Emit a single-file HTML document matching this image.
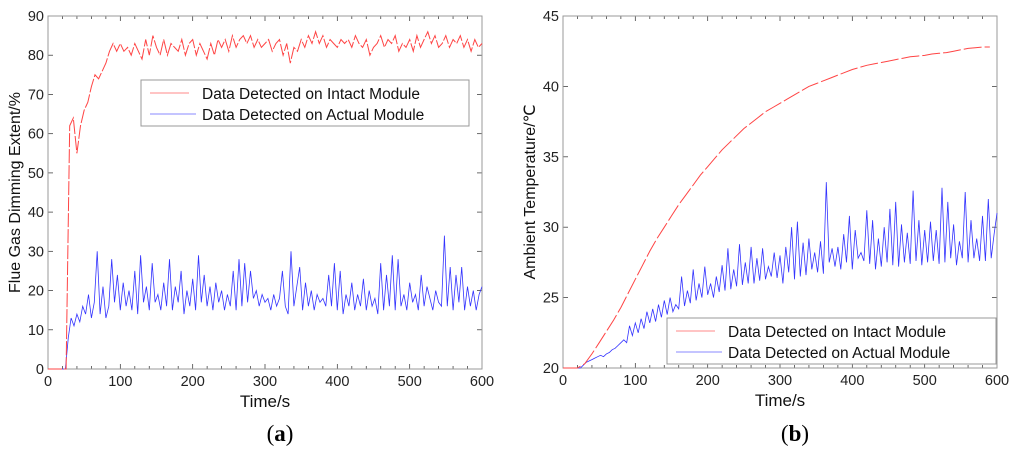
<!DOCTYPE html>
<html><head><meta charset="utf-8"><style>
body{margin:0;background:#fff;width:1024px;height:450px;overflow:hidden}
svg{font-family:"Liberation Sans",sans-serif}
</style></head><body>
<svg id="s" width="1024" height="450"></svg>
<script>
const xTicks=[0,100,200,300,400,500,600];
const yTicksA=[0,10,20,30,40,50,60,70,80,90];
const yTicksB=[20,25,30,35,40,45];
const redA=[0,0,0,0,0,0,62,64,55,62,66,68,72,75,74,76,78,81,83,81,83,81,82,80,83,81,79,84,80,85,82,80,84,80,83,82,81,84,80,83,84,80,83,81,79,83,80,84,82,84,81,85,82,84,85,83,85,82,84,82,83,84,81,83,84,80,83,78,82,81,84,82,85,83,86,83,85,82,84,83,82,84,83,84,82,85,83,82,84,80,82,83,85,82,84,83,85,81,83,82,84,81,85,82,84,86,83,85,82,83,85,82,84,83,85,82,84,81,84,82,83];
const blueA=[0,0,0,0,0,0,0,8,13,11,14,12,16,14,19,13,17,30,14,21,13,16,28,17,24,15,22,16,20,15,25,14,29,17,21,15,27,17,19,15,22,16,28,15,21,17,25,14,20,16,23,15,29,17,24,16,21,15,22,17,20,15,19,16,25,15,28,16,27,17,25,18,20,16,19,17,18,15,19,16,18,25,16,14,30,16,21,26,15,22,16,20,15,19,17,18,16,24,16,27,15,25,14,19,16,22,15,19,16,23,15,20,16,18,14,27,15,24,16,29,15,28,16,19,15,22,17,19,15,24,16,21,18,15,20,17,16,34,16,26,15,24,17,26,15,21,16,20,15,19,21];
const redB=[20,20,20,20.3,21,21.8,22.6,23.4,24.3,25.3,26.3,27.3,28.3,29.2,30,30.8,31.6,32.3,33,33.7,34.3,34.9,35.5,36,36.5,37,37.4,37.8,38.2,38.5,38.8,39.1,39.4,39.7,40,40.2,40.4,40.6,40.8,41,41.2,41.35,41.5,41.6,41.7,41.8,41.9,42,42.1,42.15,42.2,42.3,42.35,42.4,42.5,42.6,42.7,42.75,42.8,42.8];
const blueB=[20,20,20,20,20,20,20,20.2,20.4,20.5,20.6,20.7,20.8,20.9,20.8,21,21.1,21.3,21.4,21.6,21.8,22,21.8,23,22.3,23.2,22.5,23.5,22.8,24,23.2,24.2,23.3,24.5,23.6,24.8,23.8,25,24,24.5,24.2,26.5,24.4,25.5,24.6,27,24.8,26,25,27.2,25.2,26,25,26.5,25.4,27.3,25.5,28.5,25.6,27,25.8,28.8,25.9,27.5,26,28.6,26,27.8,26.2,28.5,26.3,27.2,26.5,28.2,26.4,28,26,28.6,26.8,30,26.3,30.4,26.5,28.9,26.6,29.2,27,28.2,26.8,29,26.7,33.2,27.5,28.5,27.2,28.6,27,29.5,27.5,30.8,27,29.8,27.8,28.2,27.6,31.2,27.4,30.5,27,29.2,27.2,30,27.5,31.3,27.3,31.8,27.2,30.2,27.5,29.6,27.4,32.6,27.6,30.5,27.3,29.8,27.5,30.4,27.6,29.8,27.4,32.8,27.5,31.8,27.8,30.2,27.3,29,27.8,32.5,27.5,30.5,27.8,29.2,27.6,30.8,27.6,32,27.8,29.5,31];
const NS="http://www.w3.org/2000/svg";
const svg=document.getElementById('s');
function mk(tag,attrs,parent,text){const e=document.createElementNS(NS,tag);for(const k in attrs)e.setAttribute(k,attrs[k]);if(text!==undefined)e.textContent=text;(parent||svg).appendChild(e);return e;}
function panel(cfg){
 const g=mk('g',{});
 
 
 const {x0,x1,y0,y1,ymin,ymax}=cfg;
 const sx=v=>x0+(v-0)/600*(x1-x0);
 const sy=v=>y1-(v-ymin)/(ymax-ymin)*(y1-y0);
 for(let t=0;t<=600;t+=20){const L=t%100===0?5:3;
  mk('line',{x1:sx(t),x2:sx(t),y1:y1,y2:y1-L,stroke:'#444','stroke-width':0.8},g);
  mk('line',{x1:sx(t),x2:sx(t),y1:y0,y2:y0+L,stroke:'#444','stroke-width':0.8},g);}
 xTicks.forEach(t=>{const e=mk('text',{x:sx(t),y:y1+17,'text-anchor':'middle','font-size':14.5,fill:'#222'},g,String(t));
  
  });
 cfg.yt.forEach(v=>{mk('line',{x1:x0,x2:x0+5,y1:sy(v),y2:sy(v),stroke:'#444','stroke-width':0.8},g);
  mk('line',{x1:x1,x2:x1-5,y1:sy(v),y2:sy(v),stroke:'#444','stroke-width':0.8},g);
  const e=mk('text',{x:x0-4,y:sy(v)+5,'text-anchor':'end','font-size':14.5,fill:'#222'},g,String(v));
  
  });
 const fr=mk('rect',{x:x0,y:y0,width:x1-x0,height:y1-y0,fill:'none',stroke:'#999','stroke-width':1},g);
 
 
 function series(arr,step,color,name,dash,w){
  const pts=arr.map((v,i)=>sx(i*step).toFixed(1)+','+sy(v).toFixed(1)).join(' ');
  const p=mk('polyline',{points:pts,fill:'none',stroke:color,'stroke-width':w,'stroke-dasharray':dash||'none'},g);
  
  }
 cfg.series.forEach(s=>series(s[0],s[1],s[2],s[3],s[4],s[5]));
 const xt=mk('text',{x:(x0+x1)/2,y:y1+38,'text-anchor':'middle','font-size':17,fill:'#111'},g,'Time/s');
 
 
 const yt=mk('text',{x:0,y:0,'text-anchor':'middle','font-size':16,fill:'#111',transform:`translate(${cfg.ytx},${(y0+y1)/2}) rotate(-90)`},g,cfg.ytitle);
 
 
 const lg=mk('g',{},g);
 
 
 const [lx,ly,lw,lh]=cfg.leg;
 mk('rect',{x:lx,y:ly,width:lw,height:lh,fill:'#fff',stroke:'#999','stroke-width':1},lg);
 mk('line',{x1:lx+9,x2:lx+48,y1:ly+13,y2:ly+13,stroke:'#f88','stroke-width':1},lg);
 mk('line',{x1:lx+9,x2:lx+55,y1:ly+34,y2:ly+34,stroke:'#88f','stroke-width':1},lg);
 const t1=mk('text',{x:lx+61,y:ly+19,'font-size':15.5,fill:'#111'},lg,'Data Detected on Intact Module');
 
 
 const t2=mk('text',{x:lx+61,y:ly+40,'font-size':15.5,fill:'#111'},lg,'Data Detected on Actual Module');
 
 
 const cap=mk('text',{x:(x0+x1)/2+15,y:441,'text-anchor':'middle','font-size':23,'font-family':'Liberation Serif, serif',fill:'#000'},g);
 
 
 mk('tspan',{},cap,'(');mk('tspan',{'font-weight':'bold'},cap,cfg.cap);mk('tspan',{},cap,')');
}
panel({name:'chart-a',x0:48,x1:482,y0:16,y1:369,ymin:0,ymax:90,yt:yTicksA,ytx:20,ytitle:'Flue Gas Dimming Extent/%',leg:[141,80,328,46],cap:'a',
 series:[[blueA,4,'#33f','series-actual-module',null,0.8],[redA,5,'#f44','series-intact-module','14 2',1]]});
panel({name:'chart-b',x0:563,x1:997,y0:16,y1:368,ymin:20,ymax:45,yt:yTicksB,ytx:535,ytitle:'Ambient Temperature/℃',leg:[667,318,329,46],cap:'b',
 series:[[blueB,4,'#33f','series-actual-module',null,0.8],[redB,10,'#f44','series-intact-module','18 3',1]]});
</script>
</body></html>
